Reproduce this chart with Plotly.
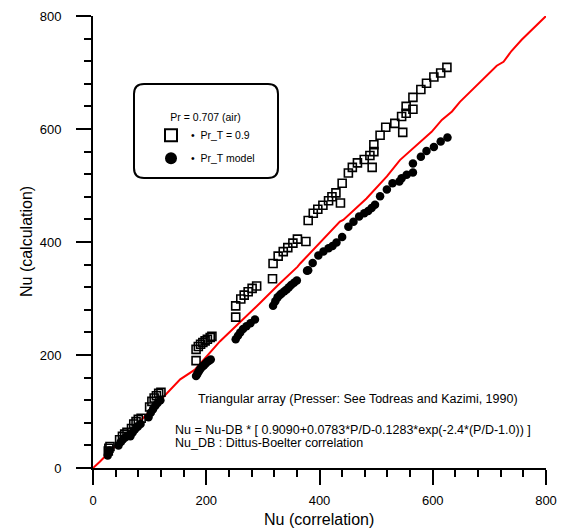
import plotly.graph_objects as go

# Open squares: Pr_T = 0.9
sq_x = [27, 28, 30, 47, 52, 56, 60, 68, 72, 76, 80, 85,
        100, 104, 108, 112, 116, 120,
        182, 182, 186, 190, 194, 198, 202, 207, 210,
        252, 252, 261, 267, 274, 281, 289,
        317, 318, 327, 336, 344, 353, 361, 376,
        380, 389, 397, 406, 416, 422, 429, 437, 440, 451, 458, 467, 479, 489,
        493, 496, 496, 507, 517, 533, 545, 547, 553, 553, 565, 565,
        579, 589, 602, 614, 625]
sq_y = [30, 35, 38, 50, 56, 60, 63, 70, 78, 82, 86, 88,
        108, 118, 124, 128, 132, 134,
        190, 210, 215, 219, 222, 225, 228, 231, 233,
        267, 287, 299, 306, 312, 318, 322,
        335, 362, 375, 383, 390, 398, 405, 401,
        438, 451, 458, 465, 473, 480, 487, 469, 504, 522, 532, 540, 546, 553,
        532, 560, 572, 589, 603, 610, 622, 594, 628, 640, 635, 656,
        670, 681, 692, 699, 709]

# Filled circles: Pr_T model
ci_x = [26, 27, 29, 45, 49, 53, 58, 66, 70, 74, 79, 84,
        98, 102, 106, 110, 114, 119,
        182, 184, 186, 188, 190, 193, 196, 199, 202, 205, 208,
        252, 256, 260, 265, 271, 278, 286,
        318, 322, 326, 330, 333, 338, 342, 346, 350, 355, 360,
        378, 380, 388, 398, 407, 416, 423, 430, 440, 451, 460, 470, 479,
        486, 492, 498, 507, 519, 529, 541, 545, 554, 565, 565,
        579, 589, 602, 614, 626]
ci_y = [22, 27, 31, 40, 46, 51, 55, 56, 63, 68, 73, 78,
        90, 98, 104, 110, 115, 120,
        163, 166, 170, 173, 176, 179, 182, 185, 188, 190, 192,
        228, 234, 240, 246, 251, 256, 263,
        287, 295, 302, 306, 309, 313, 316, 320, 324, 328, 332,
        349, 350, 363, 376, 383, 389, 393, 399, 409, 427, 436, 445, 451,
        455, 460, 466, 481, 493, 504, 507, 513, 519, 523, 539,
        551, 561, 568, 578, 585]

# Red reference curve
corr_x = [0, 12, 100, 154, 180, 224, 295, 327, 361, 366, 436, 442, 483, 519,
          542, 595, 598, 616, 634, 648, 713, 725, 739, 757, 800]
corr_y = [0, 11, 100, 157, 174, 224, 292, 324, 356, 362, 436, 439, 477, 516,
          545, 592, 595, 616, 631, 648, 712, 719, 738, 758, 800]

FONT = "Liberation Sans, Arial, sans-serif"
L, R, T, B = 93, 16, 16, 63
W, H = 562, 531
PW, PH = W - L - R, H - T - B


def px_x(p):
    return (p - L) / PW


def px_y(p):
    return (H - B - p) / PH


fig = go.Figure()
fig.add_trace(go.Scatter(
    x=corr_x, y=corr_y, mode="lines",
    line=dict(color="#ff0000", width=2),
    showlegend=False, hoverinfo="skip"))
fig.add_trace(go.Scatter(
    x=sq_x, y=sq_y, mode="markers", name="\u2022  Pr_T = 0.9", legendgroup="a",
    marker=dict(symbol="square-open", size=8, color="black",
                line=dict(width=1.6, color="black"))))
fig.add_trace(go.Scatter(
    x=ci_x, y=ci_y, mode="markers", name="\u2022  Pr_T model", legendgroup="b",
    marker=dict(symbol="circle", size=8.5, color="black", line=dict(width=0))))

# Rounded legend frame (paper coordinates)
x0, x1, y0, y1 = px_x(134), px_x(278), px_y(178), px_y(84)
rx, ry = 10 / PW, 10 / PH
path = (f"M {x0+rx},{y1} L {x1-rx},{y1} Q {x1},{y1} {x1},{y1-ry} "
        f"L {x1},{y0+ry} Q {x1},{y0} {x1-rx},{y0} "
        f"L {x0+rx},{y0} Q {x0},{y0} {x0},{y0+ry} "
        f"L {x0},{y1-ry} Q {x0},{y1} {x0+rx},{y1} Z")
fig.add_shape(type="path", path=path, xref="paper", yref="paper",
              line=dict(color="black", width=2), fillcolor="rgba(0,0,0,0)")

notes = [
    ("Triangular array (Presser: See Todreas and Kazimi, 1990)", 196, 399),
    ("Nu = Nu-DB * [ 0.9090+0.0783*P/D-0.1283*exp(-2.4*(P/D-1.0)) ]", 173, 430),
    ("Nu_DB : Dittus-Boelter correlation", 173, 443),
]
for txt, nx, ny in notes:
    fig.add_annotation(x=px_x(nx), y=px_y(ny), xref="paper", yref="paper",
                       xanchor="left", yanchor="middle", showarrow=False,
                       text=txt, font=dict(family=FONT, size=12.5, color="black"))

# Axis titles
title_font = dict(family=FONT, size=16, color="black")
fig.add_annotation(x=px_x(319), y=px_y(519), xref="paper", yref="paper",
                   xanchor="center", yanchor="middle", showarrow=False,
                   text="Nu (correlation)", font=title_font)
fig.add_annotation(x=px_x(26), y=px_y(242), xref="paper", yref="paper",
                   xanchor="center", yanchor="middle", showarrow=False,
                   textangle=-90, text="Nu (calculation)", font=title_font)

axis_common = dict(
    range=[0, 800], dtick=200, tick0=0, automargin=False,
    showgrid=False, zeroline=False,
    showline=True, linecolor="black", linewidth=2,
    ticks="outside", ticklen=15, tickwidth=2, tickcolor="black",
    tickfont=dict(family=FONT, size=13, color="black"),
    minor=dict(ticks="outside", ticklen=7, tickwidth=2, tickcolor="black", dtick=40),
)

fig.update_layout(
    width=W, height=H,
    margin=dict(l=L, r=R, t=T, b=B),
    paper_bgcolor="white", plot_bgcolor="white",
    font=dict(family=FONT, color="black"),
    xaxis=dict(axis_common, ticklabelstandoff=4),
    yaxis=dict(axis_common, ticklabelstandoff=12),
    legend=dict(
        x=px_x(151), y=px_y(107), xanchor="left", yanchor="top",
        bgcolor="rgba(0,0,0,0)", borderwidth=0,
        font=dict(family=FONT, size=10.5, color="black"),
        title=dict(text="Pr = 0.707 (air)", side="top center",
                   font=dict(family=FONT, size=10.5, color="black")),
        itemsizing="constant", tracegroupgap=4,
    ),
)

fig.write_html("out.html")
